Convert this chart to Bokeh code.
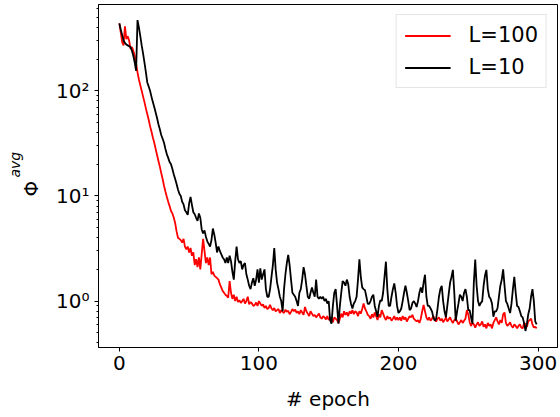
from bokeh.plotting import figure
from bokeh.models import Range1d, FixedTicker, Legend, LegendItem, Title
from bokeh.embed import file_html
from bokeh.resources import INLINE

# ---------------- data ----------------
epochs = list(range(300))

loss_L100 = [
    437, 360, 290, 270, 410, 310, 330, 300, 250, 260,
    240, 215, 180, 150, 128, 113, 100, 88, 78, 68,
    60, 53, 46, 41, 36, 32, 28, 24.5, 21.5, 19,
    16.5, 14.5, 12.5, 11, 9.8, 8.8, 8.0, 7.2, 6.8, 6.2,
    5.5, 4.6, 4.0, 3.9, 3.8, 3.6, 3.9, 3.3, 3.1, 3.3,
    2.9, 3.2, 2.7, 2.9, 2.2, 2.5, 2.1, 2.6, 2.0, 2.8,
    3.9, 3.0, 2.3, 2.6, 2.2, 2.6, 1.8, 1.9, 1.75, 1.7,
    1.65, 1.6, 1.45, 1.35, 1.25, 1.2, 1.15, 1.12, 1.08, 1.55,
    1.2, 1.05, 1.15, 1.0, 1.1, 0.98, 1.02, 0.96, 1.0, 1.05,
    0.95, 1.0, 1.1, 0.93, 0.98, 0.95, 0.9, 0.92, 0.97, 0.9,
    1.0, 0.95, 0.9, 0.93, 0.86, 0.9, 0.84, 0.86, 0.92, 0.85,
    0.82, 0.86, 0.8, 0.82, 0.84, 0.77, 0.82, 0.79, 0.77, 0.83,
    0.79, 0.81, 0.75, 0.79, 0.84, 0.8, 0.83, 0.77, 0.8, 0.75,
    0.82, 0.78, 0.74, 0.88, 0.8, 0.76, 0.72, 0.8, 0.76, 0.72,
    0.74, 0.7, 0.73, 0.76, 0.7, 0.68, 0.72, 0.7, 0.67, 0.72,
    0.66, 0.7, 0.68, 0.63, 0.7, 0.68, 0.66, 0.62, 0.68, 0.76,
    0.7, 0.8, 0.74, 0.78, 0.72, 0.8, 0.76, 0.82, 0.75, 0.8,
    0.78, 0.72, 0.8, 0.76, 0.84, 0.95, 0.85, 0.8, 0.74, 0.72,
    0.68, 0.75, 0.7, 0.78, 0.72, 0.66, 0.75, 0.7, 0.82, 0.76,
    0.7, 0.66, 0.72, 0.68, 0.7, 0.65, 0.68, 0.72, 0.66, 0.7,
    0.66, 0.7, 0.65, 0.72, 0.67, 0.7, 0.64, 0.68, 0.72, 0.7,
    0.74, 0.68, 0.66, 0.64, 0.66, 0.62, 0.68, 0.8, 0.92, 0.8,
    0.7, 0.66, 0.7, 0.65, 0.68, 0.72, 0.66, 0.64, 0.68, 0.7,
    0.65, 0.68, 0.63, 0.66, 0.7, 0.64, 0.67, 0.7, 0.65, 0.62,
    0.66, 0.68, 0.64, 0.6, 0.63, 0.66, 0.62, 0.65, 0.68, 0.82,
    0.75, 0.63, 0.58, 0.62, 0.6, 0.56, 0.6, 0.63, 0.58, 0.6,
    0.64, 0.57, 0.6, 0.55, 0.62, 0.58, 0.6, 0.55, 0.62, 0.66,
    0.7, 0.64, 0.6, 0.66, 0.62, 0.75, 0.78, 0.62, 0.58, 0.6,
    0.63, 0.58, 0.56, 0.6, 0.58, 0.55, 0.58, 0.6, 0.56, 0.55,
    0.62, 0.6, 0.57, 0.64, 0.66, 0.68, 0.6, 0.56, 0.57, 0.55,
]

loss_L10 = [
    437, 380, 340, 300, 285, 275, 270, 265, 260, 240,
    215, 185, 155, 470, 400, 330, 270, 225, 185, 150,
    120, 110, 100, 88, 78, 70, 62, 55, 48, 43,
    38, 35, 32, 28, 25, 23, 21, 20, 18, 16,
    14.5, 13, 11.5, 10.5, 10, 8.8, 8.3, 7.3, 7.0, 6.6,
    8.5, 9.8, 8.2, 7.0, 6.7, 6.2, 5.8, 6.8, 6.2, 4.8,
    4.4, 4.7, 4.1, 3.7, 3.5, 3.3, 3.8, 4.9, 4.3, 3.6,
    2.9, 3.3, 3.0, 2.8, 2.6, 2.5, 2.3, 2.6, 2.3, 2.7,
    2.4, 1.9, 1.6, 2.4, 3.3, 2.5, 2.3, 2.4, 2.0, 2.2,
    2.3, 1.8, 1.6, 1.4, 1.3, 1.5, 1.65, 1.4, 1.6, 2.0,
    1.5, 2.05, 1.6, 1.8, 2.0, 1.3, 1.1, 1.1, 1.3, 1.7,
    2.2, 3.2, 2.0, 1.5, 1.3, 1.1, 1.0, 0.8, 1.3, 1.8,
    2.3, 2.75, 2.2, 1.6, 1.2, 1.15, 1.1, 1.0, 0.9, 1.2,
    1.3, 1.6, 2.1, 1.8, 1.4, 1.1, 1.05, 1.2, 1.35, 1.2,
    1.1, 1.6, 1.1, 1.05, 1.1, 1.05, 1.1, 1.0, 1.05, 0.95,
    1.0, 0.66, 0.61, 0.9, 1.2, 1.3, 0.9, 0.61, 0.9, 1.2,
    1.55, 1.5, 1.4, 1.6, 1.45, 1.1, 0.94, 0.85, 0.95, 1.0,
    1.1, 1.6, 2.5, 1.7, 1.35, 1.3, 1.27, 1.1, 0.94, 0.94,
    1.0, 1.1, 1.15, 0.9, 0.8, 0.71, 0.9, 1.02, 1.0, 1.2,
    1.7, 2.37, 1.3, 0.9, 0.9, 1.1, 1.3, 1.47, 1.2, 0.9,
    0.77, 0.8, 0.85, 1.0, 1.2, 1.4, 1.2, 1.0, 0.82, 0.85,
    0.96, 1.0, 0.95, 0.88, 1.0, 1.2, 1.35, 1.2, 1.5, 1.78,
    1.1, 0.9, 0.9, 0.85, 0.8, 0.7, 0.65, 0.68, 0.85, 1.1,
    1.3, 1.4, 1.0, 0.8, 0.7, 0.9, 1.17, 1.5, 1.7, 1.98,
    1.2, 0.65, 0.8, 0.95, 1.15, 1.1, 1.0, 1.2, 1.3, 1.1,
    0.82, 0.82, 0.7, 0.61, 1.5, 2.48, 1.4, 1.0, 0.9, 0.96,
    1.0, 1.4, 1.75, 1.98, 1.3, 1.1, 1.05, 0.95, 0.71, 0.8,
    0.8, 0.86, 1.1, 1.4, 1.6, 2.0, 1.4, 1.0, 0.94, 0.85,
    0.77, 0.95, 1.3, 1.7, 1.2, 0.9, 0.88, 0.8, 0.72, 0.7,
    0.62, 0.52, 0.6, 0.75, 0.85, 1.1, 1.3, 1.0, 0.64, 0.6,
]

series_labels = ["L=100", "L=10"]
series_colors = ["#ff0000", "#000000"]

x_ticks = [0, 100, 200, 300]
y_ticks = [1, 10, 100]
y_tick_labels = {1: "10\u2070", 10: "10\u00b9", 100: "10\u00b2"}
y_minor = [m * d for d in (0.1, 1, 10, 100) for m in range(2, 10)]
x_title = "# epoch"
y_title_base = "\u03a6"
y_title_sup = "avg"

FONT = "DejaVu Sans"

# ---------------- figure ----------------
p = figure(
    width=560, height=417,
    x_range=Range1d(-14.95, 313.95),
    y_range=Range1d(0.362, 661),
    y_axis_type="log",
    output_backend="svg",
    toolbar_location=None,
    min_border_left=98, min_border_right=3,
    min_border_top=4, min_border_bottom=70,
)
p.background_fill_color = "white"
p.border_fill_color = "white"
p.outline_line_color = "black"
p.outline_line_width = 1
p.grid.visible = False

r1 = p.line(epochs, loss_L100, line_color=series_colors[0], line_width=1.8)
r2 = p.line(epochs, loss_L10, line_color=series_colors[1], line_width=1.8)

# axes
p.xaxis.ticker = FixedTicker(ticks=x_ticks)
p.yaxis.ticker = FixedTicker(ticks=y_ticks, minor_ticks=y_minor)
p.yaxis.major_label_overrides = y_tick_labels

for ax in (p.xaxis[0], p.yaxis[0]):
    ax.axis_line_color = "black"
    ax.axis_line_width = 1
    ax.major_tick_line_color = "black"
    ax.minor_tick_line_color = "black"
    ax.major_tick_in = 0
    ax.major_tick_out = 4
    ax.minor_tick_in = 0
    ax.minor_tick_out = 2
    ax.major_label_text_font = FONT
    ax.major_label_text_font_size = "20px"
    ax.major_label_text_color = "black"
    ax.axis_label_text_font = FONT
    ax.axis_label_text_font_size = "20px"
    ax.axis_label_text_font_style = "normal"
    ax.axis_label_text_color = "black"

p.xaxis.minor_tick_line_color = None
p.xaxis.major_label_standoff = 4
p.xaxis.axis_label = x_title
p.xaxis.axis_label_standoff = 14
p.yaxis.major_label_standoff = 5

# y-axis title: upright Phi followed by a smaller italic superscript
p.add_layout(Title(text=y_title_base, align="left", offset=151, standoff=22,
                   text_font=FONT, text_font_size="20px",
                   text_font_style="normal", text_color="black"), "left")
p.add_layout(Title(text=y_title_sup, align="left", offset=170, standoff=-34,
                   text_font=FONT, text_font_size="14px",
                   text_font_style="italic", text_color="black"), "left")

legend = Legend(
    items=[LegendItem(label=series_labels[0], renderers=[r1]),
           LegendItem(label=series_labels[1], renderers=[r2])],
    location="top_right",
    margin=10,
    padding=8,
    spacing=8,
    glyph_width=46,
    glyph_height=23,
    label_height=23,
    label_standoff=18,
    label_text_font=FONT,
    label_text_font_size="21px",
    label_text_color="black",
    border_line_color="#cccccc",
    border_line_width=1,
    background_fill_color="white",
    background_fill_alpha=0.8,
)
p.add_layout(legend)

open("out.html", "w").write(file_html(p, INLINE))
